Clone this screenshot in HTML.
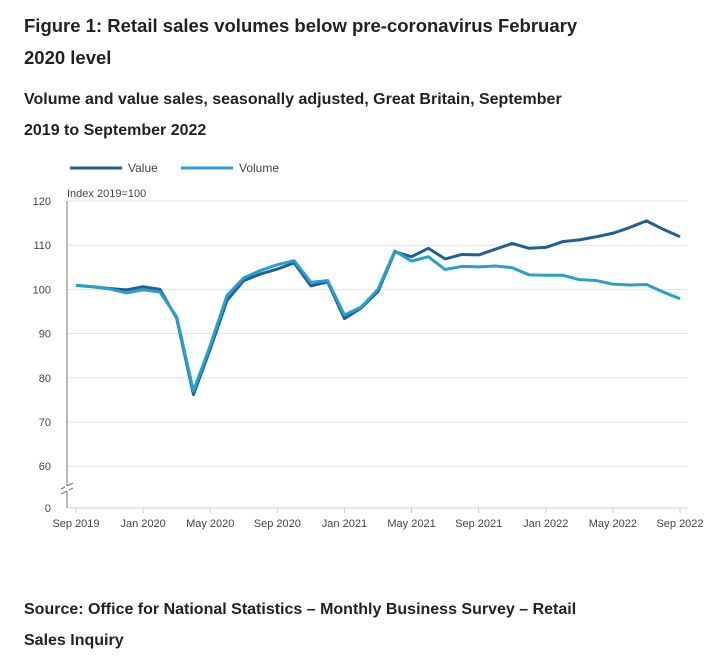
<!DOCTYPE html>
<html><head><meta charset="utf-8"><style>
body{margin:0;width:721px;height:655px;background:#fff;font-family:"Liberation Sans",sans-serif;color:#222;overflow:hidden}
h1{position:absolute;left:24px;top:10px;margin:0;font-size:18.5px;line-height:32px;font-weight:bold;width:560px}
h2{position:absolute;left:24px;top:84px;margin:0;font-size:16px;line-height:31px;font-weight:bold;width:560px}
.src{position:absolute;left:24px;top:594px;font-size:16px;line-height:31px;font-weight:bold;width:590px}
svg{position:absolute;left:0;top:0}
</style></head><body>
<h1>Figure 1: Retail sales volumes below pre-coronavirus February 2020 level</h1>
<h2>Volume and value sales, seasonally adjusted, Great Britain, September 2019 to September 2022</h2>
<svg id="c" width="721" height="655" font-family="Liberation Sans, sans-serif"></svg>
<div class="src">Source: Office for National Statistics – Monthly Business Survey – Retail Sales Inquiry</div>
<script>
const valueSeries=[100.9,100.6,100.2,99.9,100.6,100.0,93.5,76.2,86.5,97.5,102.0,103.5,104.6,106.0,100.8,101.7,93.4,95.8,99.5,108.5,107.4,109.3,106.9,107.9,107.8,109.1,110.4,109.3,109.5,110.8,111.2,111.9,112.7,114.0,115.5,113.6,111.9];
const volumeSeries=[100.9,100.6,100.1,99.2,99.9,99.4,93.8,77.0,87.3,98.6,102.6,104.3,105.6,106.5,101.6,102.0,94.2,96.0,100.0,108.7,106.4,107.4,104.5,105.2,105.1,105.3,104.9,103.3,103.2,103.2,102.2,102.0,101.2,101.0,101.1,99.4,97.9];
const yTicks=[60,70,80,90,100,110,120];
const xTickLabels=["Sep 2019","Jan 2020","May 2020","Sep 2020","Jan 2021","May 2021","Sep 2021","Jan 2022","May 2022","Sep 2022"];
const xTickIdx=[0,4,8,12,16,20,24,28,32,36];
const NS="http://www.w3.org/2000/svg",svg=document.getElementById('c');
const x=i=>76+i*(604/36), y=v=>201+(120-v)*4.42;
function mk(t,a,p){const e=document.createElementNS(NS,t);for(const k in a)e.setAttribute(k,a[k]);(p||svg).appendChild(e);return e;}
yTicks.forEach(v=>{
 const g=mk('line',{x1:67,x2:688,y1:y(v),y2:y(v),stroke:'#e2e2e2','stroke-width':1});
 
 
 const t=mk('text',{x:51,y:y(v)+4,'text-anchor':'end','font-size':11,fill:'#444'});t.textContent=v;
 
 
});
const z=mk('text',{x:51,y:512,'text-anchor':'end','font-size':11,fill:'#444'});z.textContent='0';


mk('line',{x1:67,x2:688,y1:508,y2:508,stroke:'#ccc'});
mk('line',{x1:67,x2:67,y1:201,y2:508,stroke:'#777'});
mk('path',{d:'M61,489 L73,483 M61,494 L73,488',stroke:'#777',fill:'none'});
mk('rect',{x:65,y:486,width:4,height:5,fill:'#fff'});
const yt=mk('text',{x:67,y:197,'font-size':11,fill:'#444'});yt.textContent='Index 2019=100';


xTickIdx.forEach((i,k)=>{
 mk('line',{x1:x(i),x2:x(i),y1:508,y2:513,stroke:'#ccc'});
 const t=mk('text',{x:x(i),y:527,'text-anchor':'middle','font-size':11,fill:'#444'});t.textContent=xTickLabels[k];
 
 
});
function line(d,c,n){const p=mk('polyline',{points:d.map((v,i)=>x(i)+','+y(v)).join(' '),fill:'none',stroke:c,'stroke-width':3,'stroke-linejoin':'round'});
 
 }
line(valueSeries,'#206095','value-line');
line(volumeSeries,'#27a0cc','volume-line');
[['Value','#206095',70],['Volume','#27a0cc',181]].forEach(([l,c,lx])=>{
 const g=mk('g',{});
 
 
 mk('line',{x1:lx,x2:lx+52,y1:168,y2:168,stroke:c,'stroke-width':3},g);
 const t=mk('text',{x:lx+58,y:172,'font-size':12,fill:'#444'},g);t.textContent=l;
});
</script>
</body></html>
